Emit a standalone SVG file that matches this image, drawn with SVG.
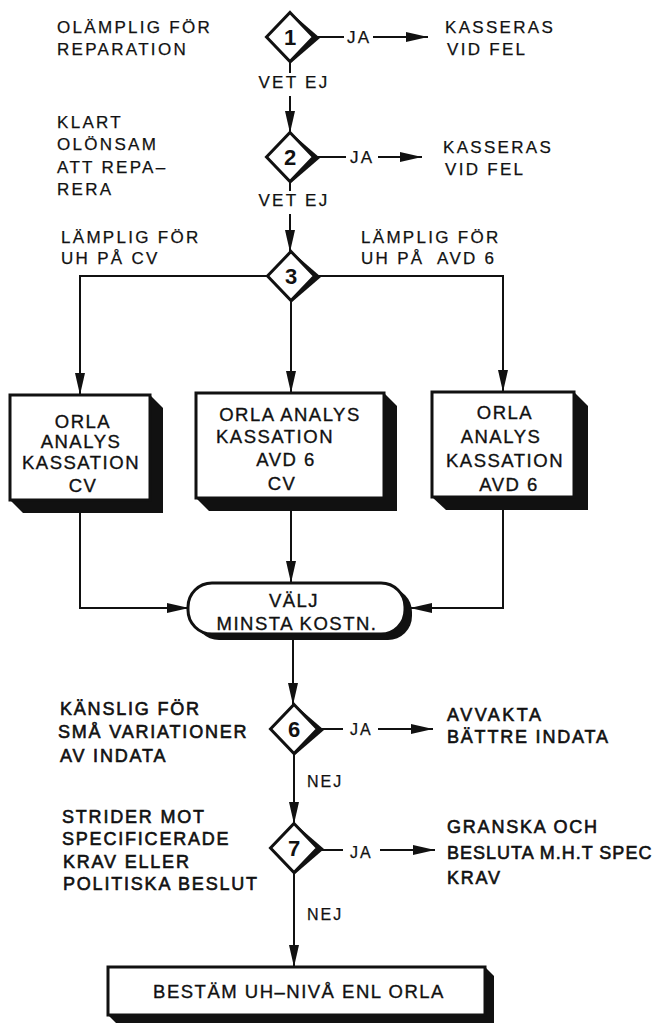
<svg xmlns="http://www.w3.org/2000/svg" xmlns:xlink="http://www.w3.org/1999/xlink" width="661" height="1023" viewBox="0 0 661 1023">
<style>
text{font-family:"Liberation Sans",Arial,sans-serif;fill:#111}
.t{font-size:17px;letter-spacing:2.3px;stroke:#111;stroke-width:0.25}
.s{font-size:16px;letter-spacing:2px;stroke:#111;stroke-width:0.25}
.b{font-size:18px;letter-spacing:1.8px;stroke:#111;stroke-width:0.6}
.x{font-size:18.5px;letter-spacing:1.5px;text-anchor:middle;stroke:#111;stroke-width:0.35}
.n{font-size:22px;font-weight:bold;text-anchor:middle}
.m{text-anchor:middle}
.ln{fill:none;stroke:#111;stroke-width:2}
.ar{marker-end:url(#ah)}
.sh{fill:#111}
.bx{fill:#fff;stroke:#111;stroke-width:3}
</style>
<defs>
<marker id="ah" markerUnits="userSpaceOnUse" markerWidth="22" markerHeight="10" refX="22" refY="5" orient="auto">
<path d="M0,0 L22,5 L0,10 z" fill="#111"/>
</marker>
<g id="dia">
<polygon class="sh" points="0,-25 30,1 1,26 -24,0"/>
<polygon class="bx" points="0,-24.5 23.5,0 0,24.5 -23.5,0" stroke-linejoin="miter"/>
</g>
</defs>
<rect width="661" height="1023" fill="#fff"/>

<g id="connectors">
<path class="ln" d="M290,62 V73"/>
<path class="ln ar" d="M290,96 V133"/>
<path class="ln" d="M313,37 H344"/>
<path class="ln ar" d="M373,37 H428"/>
<path class="ln" d="M290,182 V191"/>
<path class="ln ar" d="M290,214 V252"/>
<path class="ln" d="M313,157 H346"/>
<path class="ln ar" d="M378,157 H422"/>
<path class="ln ar" d="M268,276 H80 V395"/>
<path class="ln ar" d="M314,276 H503 V392"/>
<path class="ln ar" d="M291,301 V393"/>
<path class="ln ar" d="M80,513 V608 H189"/>
<path class="ln ar" d="M291,511 V583"/>
<path class="ln ar" d="M503,510 V608 H410"/>
<path class="ln ar" d="M293,638 V705"/>
<path class="ln" d="M317,729 H343"/>
<path class="ln ar" d="M378,729 H433"/>
<path class="ln ar" d="M294,754 V824"/>
<path class="ln" d="M318,850 H343"/>
<path class="ln ar" d="M380,850 H435"/>
<path class="ln ar" d="M294,873 V967"/>
</g>

<g id="labels">
<text class="t" x="57" y="33">OLÄMPLIG FÖR</text>
<text class="t" x="57" y="55">REPARATION</text>
<text class="t" x="347" y="43">JA</text>
<text class="t" x="445" y="33">KASSERAS</text>
<text class="t" x="447" y="55">VID FEL</text>
<text class="t m" x="294" y="88">VET EJ</text>
<text class="t" x="57" y="128">KLART</text>
<text class="t" x="57" y="150">OLÖNSAM</text>
<text class="t" x="57" y="173">ATT REPA–</text>
<text class="t" x="57" y="195">RERA</text>
<text class="t" x="350" y="163">JA</text>
<text class="t" x="443" y="153">KASSERAS</text>
<text class="t" x="445" y="175">VID FEL</text>
<text class="t m" x="294" y="206">VET EJ</text>
<text class="t" x="61" y="243">LÄMPLIG FÖR</text>
<text class="t" x="61" y="264">UH PÅ CV</text>
<text class="t" x="361" y="243">LÄMPLIG FÖR</text>
<text class="t" x="361" y="264">UH PÅ<tspan x="437">AVD 6</tspan></text>
<text class="b" x="60" y="715">KÄNSLIG FÖR</text>
<text class="b" x="58" y="738">SMÅ VARIATIONER</text>
<text class="b" x="60" y="762">AV INDATA</text>
<text class="s" x="350" y="735">JA</text>
<text class="b" x="447" y="721" style="letter-spacing:2.5px">AVVAKTA</text>
<text class="b" x="447" y="743">BÄTTRE INDATA</text>
<text class="s" x="307" y="787">NEJ</text>
<text class="b" x="62" y="823">STRIDER MOT</text>
<text class="b" x="62" y="845">SPECIFICERADE</text>
<text class="b" x="63" y="868">KRAV ELLER</text>
<text class="b" x="63" y="890">POLITISKA BESLUT</text>
<text class="s" x="350" y="858">JA</text>
<text class="b" x="447" y="833">GRANSKA OCH</text>
<text class="b" x="447" y="859" style="letter-spacing:1px">BESLUTA M.H.T SPEC</text>
<text class="b" x="447" y="884">KRAV</text>
<text class="s" x="307" y="920">NEJ</text>
</g>

<g id="d1"><use xlink:href="#dia" x="290" y="37"/><text class="n" x="290" y="45">1</text></g>
<g id="d2"><use xlink:href="#dia" x="290" y="157"/><text class="n" x="290" y="165">2</text></g>
<g id="d3"><use xlink:href="#dia" x="291" y="276"/><text class="n" x="291" y="284">3</text></g>

<g id="box1">
<polygon class="sh" points="150,395 163,408 163,513 23,513 10,500"/>
<rect class="bx" x="10" y="395" width="140" height="105"/>
<text class="x" x="83" y="428">ORLA</text>
<text class="x" x="81" y="448">ANALYS</text>
<text class="x" x="81" y="469">KASSATION</text>
<text class="x" x="83" y="492">CV</text>
</g>
<g id="box2">
<polygon class="sh" points="384,393 397,406 397,511 209,511 196,498"/>
<rect class="bx" x="196" y="393" width="188" height="105"/>
<text class="x" x="290" y="421">ORLA ANALYS</text>
<text class="x" x="275" y="443">KASSATION</text>
<text class="x" x="286" y="466">AVD 6</text>
<text class="x" x="282" y="490">CV</text>
</g>
<g id="box3">
<polygon class="sh" points="574,392 588,406 588,510 446,510 432,497"/>
<rect class="bx" x="432" y="392" width="142" height="105"/>
<text class="x" x="505" y="419">ORLA</text>
<text class="x" x="501" y="443">ANALYS</text>
<text class="x" x="505" y="467">KASSATION</text>
<text class="x" x="509" y="491">AVD 6</text>
</g>

<g id="choose">
<rect class="sh" x="195" y="588" width="217" height="52" rx="24"/>
<rect class="bx" x="188" y="583" width="217" height="51" rx="24"/>
<text class="x" x="294" y="607">VÄLJ</text>
<text class="x" x="297" y="630">MINSTA KOSTN.</text>
</g>

<g id="d6"><use xlink:href="#dia" x="294" y="729"/><text class="n" x="294" y="737">6</text></g>
<g id="d7"><use xlink:href="#dia" x="294" y="848"/><text class="n" x="294" y="856">7</text></g>

<g id="final">
<polygon class="sh" points="485,967 494,976 494,1024 117,1024 108,1015"/>
<rect class="bx" x="108" y="967" width="377" height="48"/>
<text class="x" x="299" y="998">BESTÄM UH–NIVÅ ENL ORLA</text>
</g>
</svg>
